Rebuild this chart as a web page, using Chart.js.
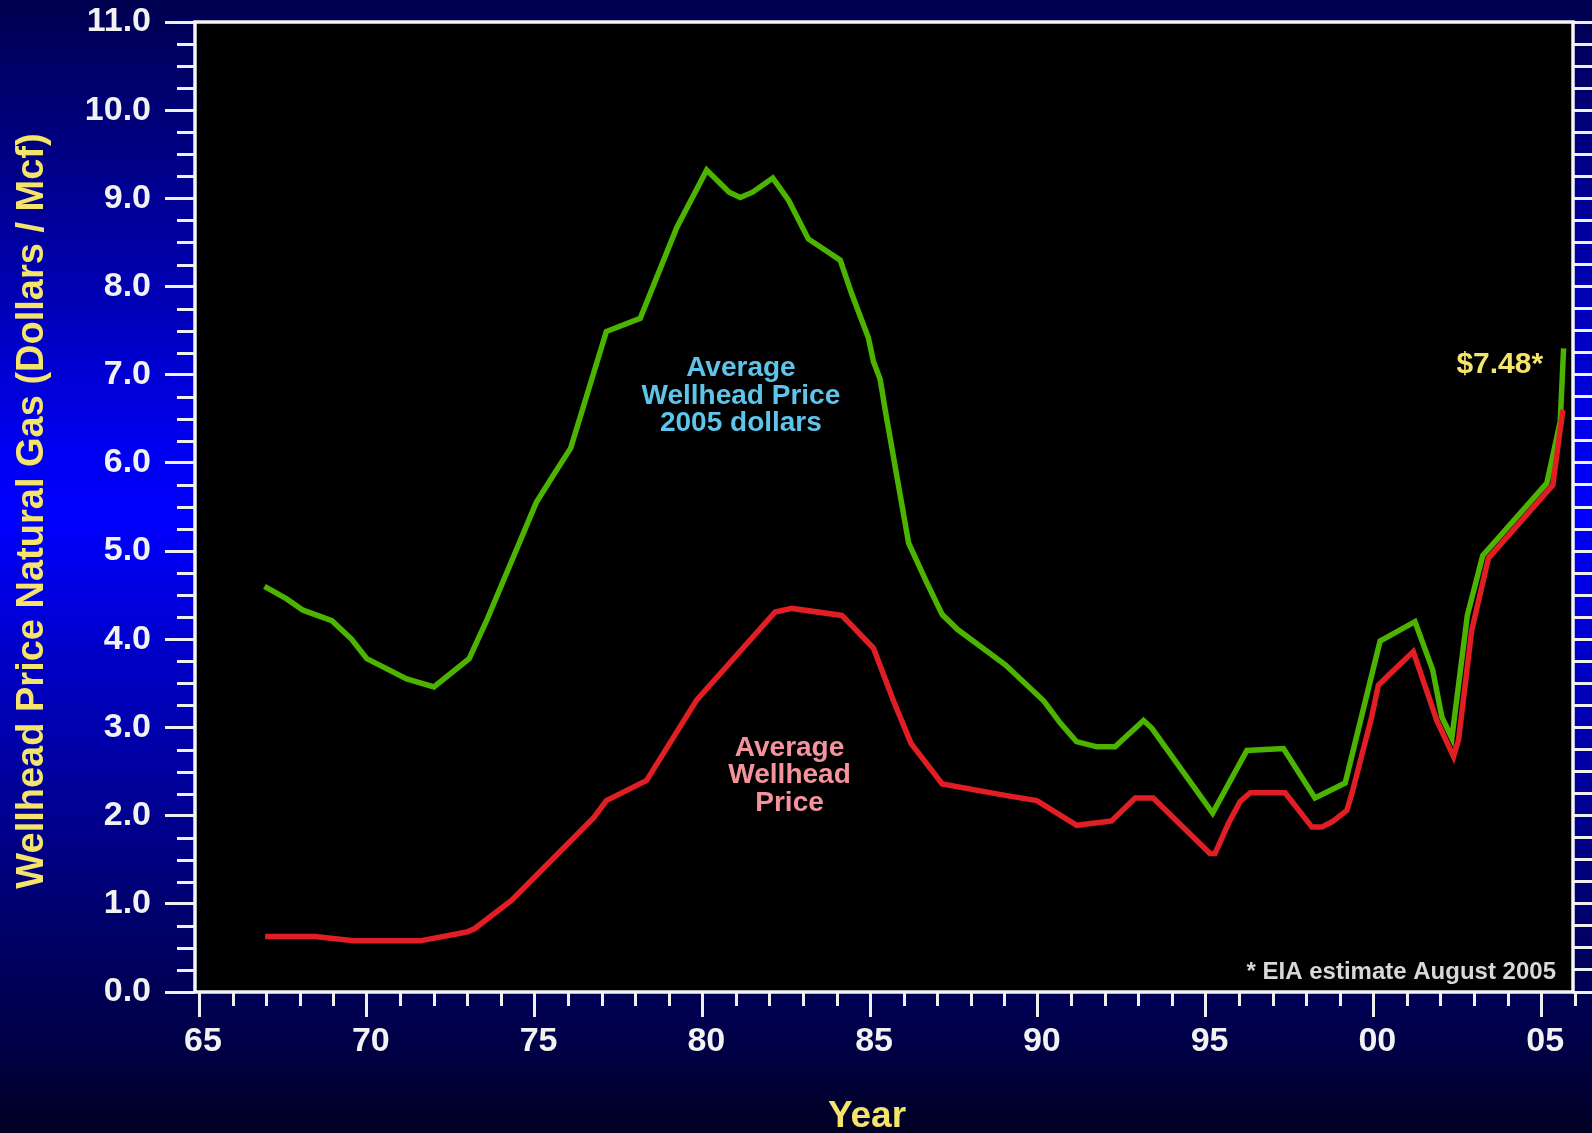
<!DOCTYPE html>
<html>
<head>
<meta charset="utf-8">
<title>Wellhead Price Natural Gas</title>
<script src="https://cdn.jsdelivr.net/npm/chart.js@4.4.1/dist/chart.umd.min.js"></script>
<style>
  html, body { margin: 0; padding: 0; background: #000040; overflow: hidden; }
  #wrap { width: 1592px; height: 1133px; }
</style>
</head>
<body>
<div id="wrap"><canvas id="price-chart" width="1592" height="1133"></canvas></div>
<script>
// Average wellhead price in 2005 dollars (green line)
const realYears = [66.95, 67.6, 68.1, 68.96, 69.55, 70.0, 71.19, 72.0, 73.05, 73.57,
    75.05, 75.56, 76.08, 77.14, 78.15, 79.24, 80.13, 80.8, 81.13, 81.5,
    82.1, 82.57, 83.16, 84.11, 84.45, 84.95, 85.1, 85.3, 85.46, 86.15,
    86.67, 87.15, 87.61, 89.03, 90.18, 90.67, 91.15, 91.76, 92.3, 93.15,
    93.4, 95.21, 96.23, 97.32, 98.26, 99.16, 100.2, 101.24, 101.77, 102.04,
    102.34, 102.8, 103.26, 105.17, 105.57, 105.67];
const realPrices = [4.60, 4.46, 4.33, 4.21, 4.00, 3.78, 3.55, 3.46, 3.78, 4.21,
    5.55, 5.86, 6.17, 7.49, 7.64, 8.67, 9.32, 9.07, 9.01, 9.07,
    9.23, 8.98, 8.54, 8.30, 7.92, 7.42, 7.15, 6.95, 6.58, 5.09,
    4.66, 4.28, 4.11, 3.71, 3.30, 3.05, 2.84, 2.78, 2.78, 3.08,
    2.99, 2.03, 2.74, 2.76, 2.20, 2.37, 3.98, 4.20, 3.65, 3.12,
    2.88, 4.27, 4.95, 5.77, 6.47, 7.30];

// Average wellhead price, nominal (red line)
const nominalYears = [66.97, 68.46, 69.6, 71.59, 72.98, 73.22, 74.32, 76.77, 77.14, 78.34,
    79.83, 82.17, 82.67, 84.16, 85.1, 85.7, 86.22, 87.15, 89.03, 89.97,
    91.16, 92.2, 92.9, 93.44, 95.13, 95.28, 95.68, 96.03, 96.33, 97.37,
    98.17, 98.46, 98.77, 99.21, 99.36, 99.95, 100.15, 100.5, 101.19, 101.89,
    102.39, 102.54, 102.93, 103.43, 105.35, 105.55, 105.65];
const nominalPrices = [0.63, 0.63, 0.58, 0.58, 0.68, 0.72, 1.04, 1.98, 2.17, 2.40,
    3.31, 4.31, 4.35, 4.27, 3.90, 3.30, 2.82, 2.36, 2.23, 2.17,
    1.89, 1.94, 2.20, 2.20, 1.57, 1.57, 1.91, 2.16, 2.26, 2.26,
    1.87, 1.87, 1.93, 2.06, 2.25, 3.12, 3.48, 3.61, 3.86, 3.08,
    2.67, 2.86, 4.10, 4.92, 5.75, 6.33, 6.60];

// Tick labels
const xTickValues = [65, 70, 75, 80, 85, 90, 95, 100, 105];
const xTickLabels = ['65', '70', '75', '80', '85', '90', '95', '00', '05'];
const yTickValues = [0, 1, 2, 3, 4, 5, 6, 7, 8, 9, 10, 11];
const yTickLabels = ['0.0', '1.0', '2.0', '3.0', '4.0', '5.0', '6.0', '7.0', '8.0', '9.0', '10.0', '11.0'];

const FONT = '"Liberation Sans", Arial, Helvetica, sans-serif';
const TICK_WHITE = '#f0f0f0';
const YELLOW = '#f4e46c';

Chart.defaults.font.family = FONT;

function toPoints(xs, ys) {
    return xs.map((x, i) => ({ x: x, y: ys[i] }));
}

// keep the axis boxes at fixed sizes so the plot area lands where it does in the picture
function fixBox(size) {
    return (scale) => {
        if (scale.isHorizontal()) scale.height = size;
        else scale.width = size;
        scale.paddingTop = 0;
        scale.paddingBottom = 0;
        scale.paddingLeft = 0;
        scale.paddingRight = 0;
    };
}

// Background, black plot area, frame, minor ticks and the text notes
const decorations = {
    id: 'decorations',
    beforeDraw(chart) {
        const { ctx, chartArea: a, width, height } = chart;
        ctx.save();
        const g = ctx.createLinearGradient(0, 0, 0, height);
        g.addColorStop(0, '#000050');
        g.addColorStop(0.15, '#00008a');
        g.addColorStop(0.27, '#0000b8');
        g.addColorStop(0.40, '#0000f4');
        g.addColorStop(0.46, '#0000ff');
        g.addColorStop(0.58, '#0000c8');
        g.addColorStop(0.72, '#000090');
        g.addColorStop(0.82, '#000068');
        g.addColorStop(0.92, '#000048');
        g.addColorStop(1, '#000022');
        ctx.fillStyle = g;
        ctx.fillRect(0, 0, width, height);
        ctx.fillStyle = '#000000';
        ctx.fillRect(a.left, a.top, a.right - a.left, a.bottom - a.top);
        ctx.restore();
    },
    afterDraw(chart) {
        const { ctx, chartArea: a } = chart;
        const xs = chart.scales.x;
        const ys = chart.scales.y;
        ctx.save();

        // minor ticks, left axis
        ctx.strokeStyle = TICK_WHITE;
        ctx.lineWidth = 3;
        ctx.beginPath();
        for (let i = 0; i <= 44; i++) {
            if (i % 4 === 0) continue;
            const py = Math.round(ys.getPixelForValue(i / 4)) + 0.5;
            ctx.moveTo(a.left - 18, py);
            ctx.lineTo(a.left, py);
        }
        // minor ticks, bottom axis
        for (let yr = 66; yr <= 106; yr++) {
            if (yr % 5 === 0) continue;
            const px = Math.round(xs.getPixelForValue(yr)) + 0.5;
            if (px > a.right + 3) continue;
            ctx.moveTo(px, a.bottom);
            ctx.lineTo(px, a.bottom + 14);
        }
        ctx.stroke();

        // plot frame
        ctx.lineWidth = 3.5;
        ctx.strokeStyle = '#f4f4f4';
        ctx.strokeRect(a.left, a.top, a.right - a.left, a.bottom - a.top);

        // axis titles
        ctx.fillStyle = YELLOW;
        ctx.font = 'bold 38px ' + FONT;
        ctx.textAlign = 'center';
        ctx.textBaseline = 'alphabetic';
        ctx.save();
        ctx.translate(43, 511);
        ctx.rotate(-Math.PI / 2);
        ctx.fillText('Wellhead Price Natural Gas (Dollars / Mcf)', 0, 0);
        ctx.restore();
        ctx.font = 'bold 37px ' + FONT;
        ctx.fillText('Year', 867, 1127);

        // series notes
        ctx.font = 'bold 28px ' + FONT;
        ctx.fillStyle = '#5ec4ea';
        let bx = xs.getPixelForValue(81.15);
        let by = ys.getPixelForValue(6.98);
        ['Average', 'Wellhead Price', '2005 dollars'].forEach((t, i) => {
            ctx.fillText(t, bx, by + i * 27.5);
        });
        ctx.fillStyle = '#f4939b';
        bx = xs.getPixelForValue(82.6);
        by = ys.getPixelForValue(2.68);
        ['Average', 'Wellhead', 'Price'].forEach((t, i) => {
            ctx.fillText(t, bx, by + i * 27.5);
        });

        ctx.fillStyle = YELLOW;
        ctx.font = 'bold 30px ' + FONT;
        ctx.textAlign = 'right';
        ctx.fillText('$7.48*', xs.getPixelForValue(105.06), ys.getPixelForValue(7.02));

        ctx.fillStyle = '#d8d8d8';
        ctx.font = 'bold 24px ' + FONT;
        ctx.fillText('* EIA estimate August 2005', a.right - 17, a.bottom - 13);

        ctx.restore();
    }
};

const ctx = document.getElementById('price-chart').getContext('2d');

const chart = new Chart(ctx, {
    type: 'line',
    data: {
        datasets: [{
            label: 'Average Wellhead Price',
            data: toPoints(nominalYears, nominalPrices),
            borderColor: '#e01e24',
            borderWidth: 5.5,
            pointRadius: 0,
            tension: 0,
            fill: false
        }, {
            label: 'Average Wellhead Price 2005 dollars',
            data: toPoints(realYears, realPrices),
            borderColor: '#4cb400',
            borderWidth: 5.5,
            pointRadius: 0,
            tension: 0,
            fill: false
        }]
    },
    options: {
        responsive: false,
        animation: false,
        layout: { padding: { top: 22, right: 0, bottom: 0, left: 0 } },
        plugins: {
            legend: { display: false },
            tooltip: { enabled: false }
        },
        scales: {
            x: {
                type: 'linear',
                min: 64.88,
                max: 105.95,
                afterBuildTicks: (scale) => {
                    scale.ticks = xTickValues.map(v => ({ value: v }));
                },
                afterFit: fixBox(141),
                border: { display: false },
                grid: {
                    drawOnChartArea: false,
                    tickLength: 25,
                    tickColor: TICK_WHITE,
                    tickWidth: 3
                },
                ticks: {
                    color: '#f2f2f2',
                    font: { size: 34, weight: 'bold' },
                    padding: 4,
                    labelOffset: 4,
                    autoSkip: false,
                    maxRotation: 0,
                    callback: (value) => xTickLabels[xTickValues.indexOf(value)]
                }
            },
            y: {
                type: 'linear',
                position: 'left',
                min: 0,
                max: 11,
                afterBuildTicks: (scale) => {
                    scale.ticks = yTickValues.map(v => ({ value: v }));
                },
                afterFit: fixBox(195),
                border: { display: false },
                grid: {
                    drawOnChartArea: false,
                    tickLength: 30,
                    tickColor: TICK_WHITE,
                    tickWidth: 3
                },
                ticks: {
                    color: '#f2f2f2',
                    font: { size: 34, weight: 'bold' },
                    padding: 14,
                    autoSkip: false,
                    callback: (value) => yTickLabels[yTickValues.indexOf(value)]
                }
            },
            y2: {
                type: 'linear',
                axis: 'y',
                position: 'right',
                min: 0,
                max: 11,
                afterBuildTicks: (scale) => {
                    const t = [];
                    for (let i = 0; i <= 44; i++) t.push({ value: i / 4 });
                    scale.ticks = t;
                },
                afterFit: fixBox(19),
                border: { display: false },
                grid: {
                    drawOnChartArea: false,
                    tickLength: 19,
                    tickColor: TICK_WHITE,
                    tickWidth: 3
                },
                ticks: { display: false }
            }
        }
    },
    plugins: [decorations]
});
</script>
</body>
</html>
